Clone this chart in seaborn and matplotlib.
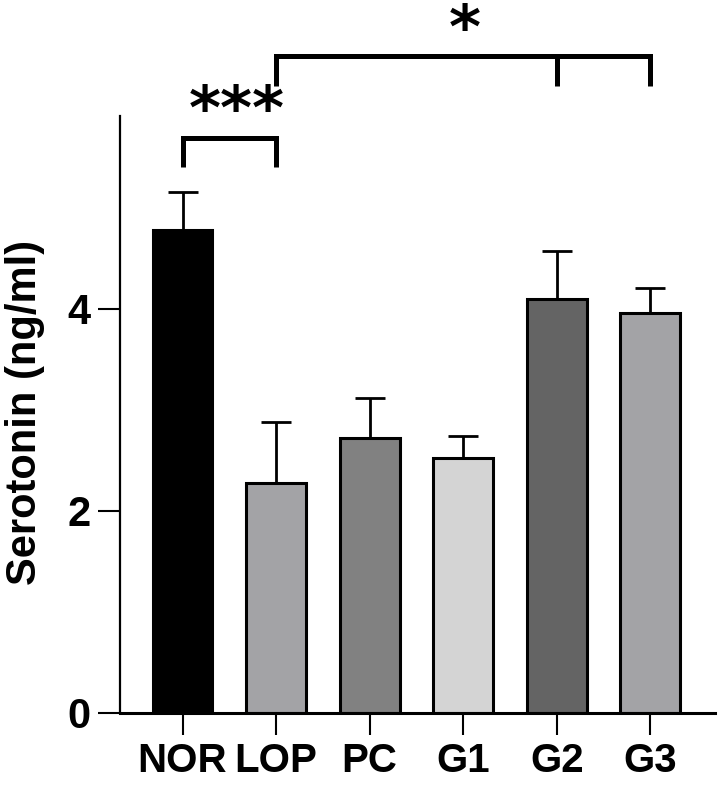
import matplotlib
matplotlib.use("Agg")
import matplotlib.pyplot as plt
import numpy as np
import pandas as pd
import seaborn as sns

groups = ["NOR", "LOP", "PC", "G1", "G2", "G3"]
means = [4.78, 2.28, 2.72, 2.52, 4.10, 3.96]
sds = [0.38, 0.60, 0.40, 0.22, 0.47, 0.25]
bar_colors = ["#000000", "#a2a2a7", "#818181", "#d4d4d4", "#646464", "#a2a2a7"]

df = pd.DataFrame({"group": groups, "serotonin": means})

sns.set_style("ticks")
plt.rcParams["font.family"] = ["Liberation Sans", "DejaVu Sans"]
plt.rcParams["font.weight"] = "bold"
for k in ["text.color", "axes.labelcolor", "xtick.color", "ytick.color",
          "axes.edgecolor"]:
    plt.rcParams[k] = "black"

fig = plt.figure(figsize=(7.25, 7.88), dpi=100)
ax = fig.add_axes([0.1655, 0.0952, 0.8207, 0.7576])

sns.barplot(
    data=df, x="group", y="serotonin", hue="group", palette=bar_colors,
    order=groups, width=0.64, edgecolor="black", linewidth=2.2,
    errorbar=None, legend=False, ax=ax,
)

x = np.arange(len(groups))
ax.errorbar(
    x, means, yerr=[np.zeros(len(sds)), sds], fmt="none", ecolor="black",
    elinewidth=2.0, capsize=11, capthick=2.0, zorder=3,
)

ax.set_xlim(-0.668, 5.69)
ax.set_ylim(0, 5.91)
ax.set_yticks([0, 2, 4])
ax.set_xlabel("")
ax.set_ylabel("Serotonin (ng/ml)", fontsize=30, fontweight="bold")
ax.yaxis.set_label_coords(-0.126, 0.504)

sns.despine(ax=ax)
ax.spines["left"].set_linewidth(1.6)
ax.spines["bottom"].set_linewidth(2.2)
ax.tick_params(axis="y", length=16, width=1.5, labelsize=30, pad=5)
ax.tick_params(axis="x", length=16, width=1.5, labelsize=29, pad=5)
for lab in ax.get_xticklabels() + ax.get_yticklabels():
    lab.set_fontweight("bold")

# significance brackets
br = dict(color="black", lw=3.6, clip_on=False, solid_capstyle="butt",
          solid_joinstyle="miter")
ax.plot([0, 0, 1, 1], [5.41, 5.69, 5.69, 5.41], **br)
ax.plot([1, 1, 5, 5], [6.21, 6.50, 6.50, 6.21], **br)
ax.plot([4, 4], [6.50, 6.21], **br)
ax.text(0.58, 5.78, "***", ha="center", va="baseline", fontsize=44,
        fontweight="bold", family="DejaVu Sans", clip_on=False)
ax.text(3.02, 6.58, "*", ha="center", va="baseline", fontsize=44,
        fontweight="bold", family="DejaVu Sans", clip_on=False)

fig.savefig("out.png", dpi=100)
